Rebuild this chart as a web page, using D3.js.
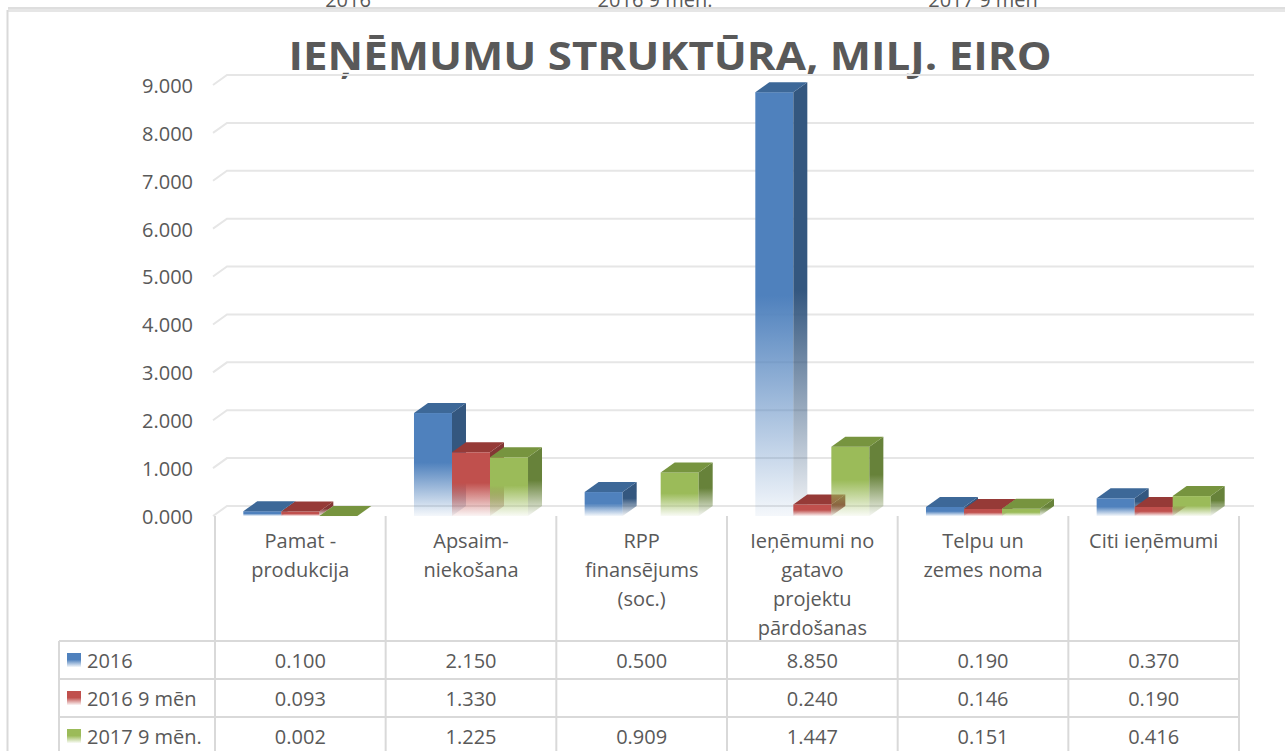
<!DOCTYPE html>
<html>
<head>
<meta charset="utf-8">
<title>Ieņēmumu struktūra</title>
<script src="https://cdn.jsdelivr.net/npm/d3@7"></script>
<style>
  body { margin: 0; background: #fff; }
  svg { display: block; font-family: "Open Sans", sans-serif; }
  .axis text { fill: #595959; font-size: 20px; }
</style>
</head>
<body>
<svg id="svg"></svg>
<script>
// data
var categories = [
  ["Pamat -", "produkcija"],
  ["Apsaim-", "niekošana"],
  ["RPP", "finansējums", "(soc.)"],
  ["Ieņēmumi no", "gatavo", "projektu", "pārdošanas"],
  ["Telpu un", "zemes noma"],
  ["Citi ieņēmumi"]
];
var seriesNames = ["2016", "2016 9 mēn", "2017 9 mēn."];
var legendLabels = ["2016", "2016 9 mēn.", "2017 9 mēn"];
var values2016 = [0.100, 2.150, 0.500, 8.850, 0.190, 0.370];
var values2016m9 = [0.093, 1.330, null, 0.240, 0.146, 0.190];
var values2017m9 = [0.002, 1.225, 0.909, 1.447, 0.151, 0.416];
var yTicks = [0, 1, 2, 3, 4, 5, 6, 7, 8, 9];

var series = [values2016, values2016m9, values2017m9];
var colors = [
  {front: "#4F81BD", side: "#34577F", top: "#3D6898"},
  {front: "#C0504D", side: "#833634", top: "#963A37"},
  {front: "#9BBB59", side: "#67823A", top: "#77943F"}
];

var width = 1285, height = 751;
var dx = 14, dy = -10;           // 3d depth
var left = 215, right = 1239;    // plot / table columns
var tableLeft = 59;
var rowLines = [641, 679, 717, 755];
var labelLineY = [540, 569, 598, 627];

var svg = d3.select("#svg").attr("width", width).attr("height", height);

// frame bits (legend on top is cut off, as in the original)
svg.append("rect").attr("x", 8).attr("y", 7).attr("width", width - 8).attr("height", 5).attr("fill", "#e6e6e6");
svg.append("line").attr("x1", 8).attr("x2", width).attr("y1", 8).attr("y2", 8).attr("stroke", "#d6d6d6");
svg.append("rect").attr("x", 6.5).attr("y", 10).attr("width", 2).attr("height", height).attr("fill", "#d9d9d9");
var legendX = [348, 655, 983];
svg.selectAll(".toplegend").data(legendLabels).enter().append("text")
  .attr("x", function(d, i) { return legendX[i]; })
  .attr("y", 7)
  .attr("text-anchor", "middle")
  .attr("font-size", 20)
  .attr("fill", "#595959")
  .text(function(d) { return d; });

// title
svg.append("text")
  .attr("x", 670).attr("y", 70)
  .attr("text-anchor", "middle")
  .attr("font-size", 40)
  .attr("font-weight", "bold")
  .attr("fill", "#595959")
  .attr("textLength", 763)
  .attr("lengthAdjust", "spacingAndGlyphs")
  .text("IEŅĒMUMU STRUKTŪRA, MILJ. EIRO");

// scales
var y = d3.scaleLinear().domain([0, 9]).range([516, 85]);
var x = d3.scaleBand().domain(d3.range(categories.length)).range([left, right]).padding(0);
var xs = d3.scaleBand().domain(d3.range(series.length)).range([0, x.bandwidth()])
  .paddingInner(0).paddingOuter(0.745);

// gradients
var defs = svg.append("defs");
colors.forEach(function(c, i) {
  ["front", "side"].forEach(function(face) {
    var g = defs.append("linearGradient").attr("id", "g" + i + face)
      .attr("x1", 0).attr("y1", 0).attr("x2", 0).attr("y2", 1);
    g.append("stop").attr("offset", "0%").attr("stop-color", c[face]);
    g.append("stop").attr("offset", "48%").attr("stop-color", c[face]);
    g.append("stop").attr("offset", "100%").attr("stop-color", c[face]).attr("stop-opacity", 0.06);
  });
});

// gridlines on the walls
svg.append("g").selectAll("polyline").data(yTicks).enter().append("polyline")
  .attr("points", function(v) {
    return [[left - 2, y(v)], [left - 2 + dx, y(v) + dy], [right + dx + 1, y(v) + dy]].join(" ");
  })
  .attr("fill", "none")
  .attr("stroke", "#e6e6e6")
  .attr("stroke-width", 2);

// y axis
var axisY = d3.axisLeft(y).tickValues(yTicks).tickFormat(d3.format(".3f")).tickSize(0).tickPadding(7);
svg.append("g").attr("class", "axis").attr("transform", "translate(200,1)").call(axisY)
  .call(function(g) { g.select(".domain").remove(); })
  .selectAll("text").attr("font-family", "Open Sans, sans-serif");

// bars
var bars = svg.append("g");
categories.forEach(function(cat, ci) {
  series.forEach(function(vals, si) {
    var v = vals[ci];
    if (v === null) return;
    var x0 = x(ci) + xs(si), x1 = x0 + xs.bandwidth();
    var yt = y(v), yb = y(0);
    var g = bars.append("g");
    g.append("rect")
      .attr("x", x0).attr("y", yt)
      .attr("width", xs.bandwidth()).attr("height", Math.max(yb - yt, 0.5))
      .attr("fill", "url(#g" + si + "front)");
    g.append("polygon")
      .attr("points", [[x1, yt], [x1 + dx, yt + dy], [x1 + dx, yb + dy], [x1, yb]].join(" "))
      .attr("fill", "url(#g" + si + "side)");
    g.append("polygon")
      .attr("points", [[x0, yt], [x0 + dx, yt + dy], [x1 + dx, yt + dy], [x1, yt]].join(" "))
      .attr("fill", colors[si].top);
  });
});

// data table
var grid = svg.append("g").attr("stroke", "#d9d9d9").attr("stroke-width", 2);
x.domain().concat([categories.length]).forEach(function(i) {
  var xx = i < categories.length ? x(i) : right;
  grid.append("line").attr("x1", xx).attr("x2", xx).attr("y1", 516).attr("y2", height);
});
grid.append("line").attr("x1", tableLeft).attr("x2", tableLeft).attr("y1", rowLines[0]).attr("y2", height);
rowLines.forEach(function(ry) {
  grid.append("line").attr("x1", tableLeft).attr("x2", right).attr("y1", ry).attr("y2", ry);
});

// category labels
var catG = svg.append("g").attr("font-size", 20).attr("fill", "#595959").attr("text-anchor", "middle");
categories.forEach(function(lines, ci) {
  lines.forEach(function(t, li) {
    catG.append("text")
      .attr("x", x(ci) + x.bandwidth() / 2)
      .attr("y", labelLineY[li])
      .attr("dominant-baseline", "central")
      .text(t);
  });
});

// table rows
var fmt = d3.format(".3f");
series.forEach(function(vals, si) {
  var cy = (rowLines[si] + rowLines[si + 1]) / 2;
  svg.append("rect").attr("x", 67).attr("y", cy - 7).attr("width", 14).attr("height", 14)
    .attr("fill", "url(#g" + si + "front)");
  svg.append("text").attr("x", 87).attr("y", cy).attr("dominant-baseline", "central")
    .attr("font-size", 20).attr("fill", "#595959").text(seriesNames[si]);
  svg.append("g").selectAll("text").data(vals).enter().append("text")
    .attr("x", function(d, ci) { return x(ci) + x.bandwidth() / 2; })
    .attr("y", cy)
    .attr("dominant-baseline", "central")
    .attr("text-anchor", "middle")
    .attr("font-size", 20).attr("fill", "#595959")
    .text(function(d) { return d === null ? "" : fmt(d); });
});
</script>
</body>
</html>
